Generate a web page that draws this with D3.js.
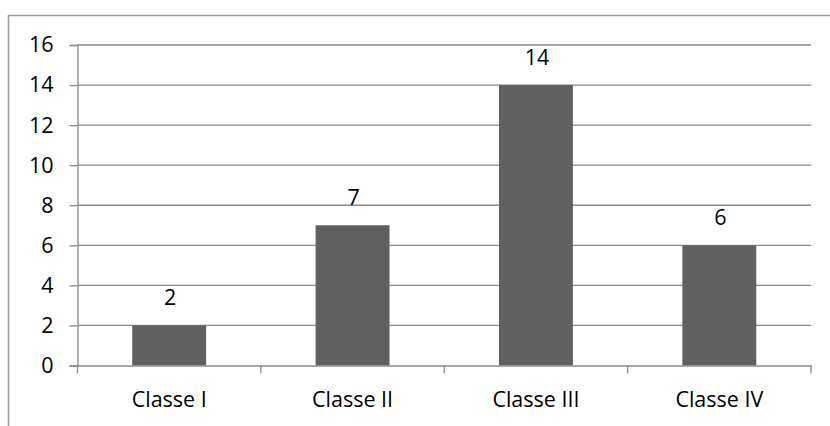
<!DOCTYPE html>
<html>
<head>
<meta charset="utf-8">
<script src="https://cdn.jsdelivr.net/npm/d3@7"></script>
<style>
  html, body { margin: 0; padding: 0; background: #fff; }
  svg { display: block; }
  text { font-family: "Open Sans", "Liberation Sans", sans-serif; fill: #000; }
</style>
</head>
<body>
<svg id="chart" width="830" height="426"></svg>
<script>
const categories = ["Classe I", "Classe II", "Classe III", "Classe IV"];
const values = [2, 7, 14, 6];
const yTicks = [0, 2, 4, 6, 8, 10, 12, 14, 16];

const W = 830, H = 426;
const margin = { left: 77.5, right: 19, top: 45, bottom: 60.5 };
const svg = d3.select("#chart");
const fontSize = "21.5px";

// outer frame (extends past the window on right/bottom)
svg.append("rect")
  .attr("x", 8.5).attr("y", 15.5)
  .attr("width", 900).attr("height", 500)
  .attr("fill", "none").attr("stroke", "#9a9a9a").attr("stroke-width", 1.5);

const x = d3.scaleBand().domain(categories)
  .range([margin.left, W - margin.right]).paddingInner(0).paddingOuter(0);
const y = d3.scaleLinear().domain([0, 16]).range([H - margin.bottom, margin.top]);

const gridColor = "#8a8a8a";

// gridlines
svg.append("g").selectAll("line").data(yTicks.filter(d => d > 0)).join("line")
  .attr("x1", margin.left).attr("x2", W - margin.right)
  .attr("y1", d => y(d)).attr("y2", d => y(d))
  .attr("stroke", gridColor).attr("stroke-width", 1.3);

// y axis
const yAxis = d3.axisLeft(y).tickValues(yTicks).tickSize(8).tickPadding(16).tickFormat(d3.format("d"));
const gy = svg.append("g").attr("transform", `translate(${margin.left},0)`).call(yAxis);
gy.select(".domain").attr("stroke", gridColor).attr("stroke-width", 1.3);
gy.selectAll(".tick line").attr("stroke", gridColor).attr("stroke-width", 1.3);
gy.selectAll(".tick text").style("font-size", fontSize).attr("fill", "#000");

// bars
const barW = x.bandwidth() * 0.403;
svg.append("g").selectAll("rect").data(values).join("rect")
  .attr("x", (d, i) => x(categories[i]) + (x.bandwidth() - barW) / 2)
  .attr("y", d => y(d))
  .attr("width", barW)
  .attr("height", d => y(0) - y(d))
  .attr("fill", "#606060");

// x axis
const xAxis = d3.axisBottom(x).tickSize(0).tickPadding(26);
const gx = svg.append("g").attr("transform", `translate(0,${y(0)})`).call(xAxis);
gx.select(".domain").attr("stroke", gridColor).attr("stroke-width", 1.3);
gx.selectAll(".tick text").style("font-size", fontSize).attr("fill", "#000");
// category boundary ticks
const bounds = categories.map(c => x(c)).concat([x(categories[categories.length - 1]) + x.bandwidth()]);
svg.append("g").selectAll("line").data(bounds).join("line")
  .attr("x1", d => d).attr("x2", d => d)
  .attr("y1", y(0)).attr("y2", y(0) + 8)
  .attr("stroke", gridColor).attr("stroke-width", 1.3);

// value labels
svg.append("g").selectAll("text").data(values).join("text")
  .attr("x", (d, i) => x(categories[i]) + x.bandwidth() / 2 + 1)
  .attr("y", d => y(d) - 20)
  .attr("text-anchor", "middle")
  .style("font-size", fontSize)
  .text(d => d);
</script>
</body>
</html>
